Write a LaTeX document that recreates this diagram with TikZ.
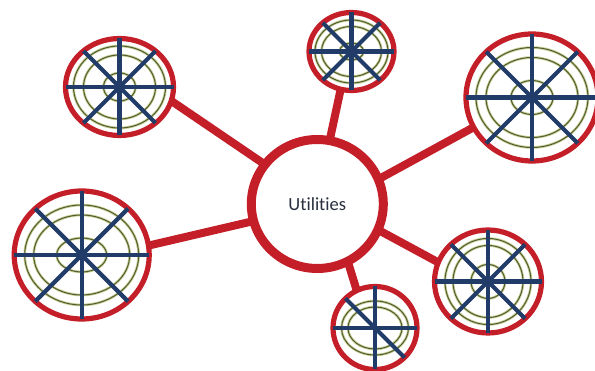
\documentclass[tikz,border=0pt]{standalone}
\usepackage{fontspec}
\setmainfont{Carlito}[Ligatures={NoCommon}]
\usetikzlibrary{shapes.geometric}
\definecolor{hubred}{RGB}{196,30,40}
\definecolor{spokeblue}{RGB}{33,60,104}
\definecolor{ringdark}{RGB}{79,95,45}
\definecolor{ringlight}{RGB}{200,205,150}
\definecolor{textc}{RGB}{40,48,62}
\begin{document}
\begin{tikzpicture}[x=1pt,y=-1pt,
  wheel/.style 2 args={ellipse, draw=hubred, line width=5.2pt, minimum width=#1, minimum height=#2, inner sep=0pt, outer sep=0pt},
  hub/.style={ellipse, draw=hubred, line width=9pt, fill=white, minimum width=132pt, minimum height=129pt, inner sep=0pt, outer sep=0pt, text=textc, font=\fontsize{18.5}{22}\selectfont},
  link/.style={draw=hubred, line width=8pt},
  spokeline/.style={draw=spokeblue, line width=4.2pt},
  ringhalo/.style={draw=ringlight, line width=2.6pt},
  ringline/.style={draw=ringdark, line width=1pt}]
\useasboundingbox (0,0) rectangle (595,371);
\fill[white] (0,0) rectangle (595,371);
% wheels
\node[wheel={108pt}{97pt}] (tl) at (119.5,87) {};
\node[wheel={85pt}{78pt}] (tm) at (351.5,51.5) {};
\node[wheel={132pt}{127pt}] (tr) at (532,97.5) {};
\node[wheel={135pt}{128pt}] (l) at (81.7,255) {};
\node[wheel={107pt}{103pt}] (br) at (488,281.5) {};
\node[wheel={84pt}{83pt}] (b) at (375,328) {};
% rings
\foreach \n/\a/\b in {tl/46pt/41pt, tl/36pt/32pt, tl/16pt/14pt,
                      tm/36.5pt/31.5pt, tm/30pt/25pt, tm/12pt/8.5pt,
                      tr/56pt/50pt, tr/46pt/40pt, tr/21pt/17pt,
                      l/57pt/50pt, l/48pt/40pt, l/25pt/17pt,
                      br/43pt/43pt, br/35pt/36pt, br/17pt/17pt,
                      b/33.5pt/27pt, b/27pt/21pt}{
  \draw[ringhalo] (\n.center) ellipse [x radius=\a, y radius=\b];
  \draw[ringline] (\n.center) ellipse [x radius=\a, y radius=\b];
}
% spokes
\foreach \n in {tl,tm,tr,l,br}{
  \draw[spokeline] (\n.0) -- (\n.180);
  \draw[spokeline] (\n.90) -- (\n.270);
  \draw[spokeline] (\n.45) -- (\n.225);
  \draw[spokeline] (\n.135) -- (\n.315);
}
\draw[spokeline] (b.0) -- (b.180);
\draw[spokeline] (b.90) -- (b.270);
\draw[spokeline] (b.135) -- (b.315);
% hub
\node[hub] (c) at (317.3,204) {Utilities};
% links
\draw[link] (c.143) -- (tl.345);
\draw[link] (c.79) -- (tm.254);
\draw[link] (c.22) -- (tr.207);
\draw[link] (c.195) -- (l.8);
\draw[link] (c.337) -- (br.159);
\draw[link] (c.298) -- (b.116);
\end{tikzpicture}
\end{document}
